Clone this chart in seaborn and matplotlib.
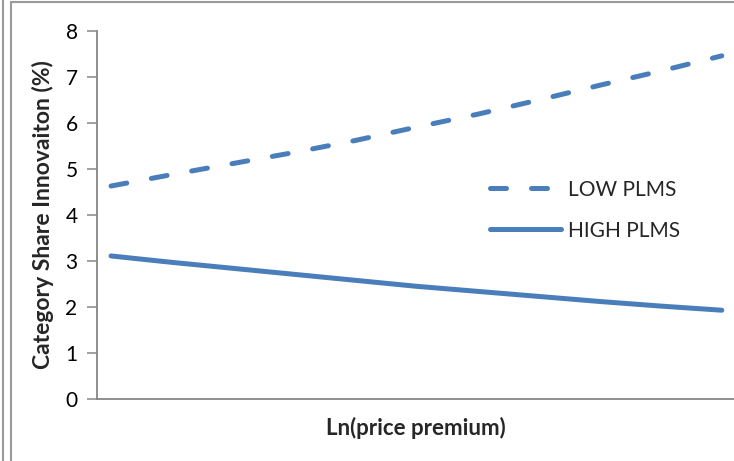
import numpy as np
import pandas as pd
import matplotlib
matplotlib.use("Agg")
import matplotlib.pyplot as plt
import seaborn as sns
from matplotlib.lines import Line2D

# values (11 evenly spaced points along Ln(price premium))
x_pos = list(range(11))
low_plms = [4.63, 4.88, 5.12, 5.36, 5.62, 5.91, 6.19, 6.50, 6.82, 7.13, 7.46]
high_plms = [3.11, 2.97, 2.84, 2.71, 2.58, 2.45, 2.34, 2.23, 2.12, 2.02, 1.93]
series_names = ["LOW PLMS", "HIGH PLMS"]
y_ticks = [0, 1, 2, 3, 4, 5, 6, 7, 8]

df = pd.DataFrame({
    "x": x_pos * 2,
    "share": low_plms + high_plms,
    "PLMS": [series_names[0]] * len(x_pos) + [series_names[1]] * len(x_pos),
})

sns.set_theme(style="white")
plt.rcParams["font.family"] = ["Lato", "DejaVu Sans"]

blue = "#4A7EBB"
grey = "#868686"

fig = plt.figure(figsize=(7.34, 4.61), dpi=100)
ax = fig.add_axes([97 / 734, 1 - 399 / 461, 1 - 97 / 734, (399 - 31) / 461])

sns.lineplot(data=df[df["PLMS"] == series_names[0]], x="x", y="share", ax=ax,
             color=blue, lw=3.6, linestyle=(0, (3.2, 5.0)),
             dash_capstyle="round", solid_capstyle="round", label=series_names[0])
sns.lineplot(data=df[df["PLMS"] == series_names[1]], x="x", y="share", ax=ax,
             color=blue, lw=3.6, solid_capstyle="round", label=series_names[1])

ax.set_xlim(-0.23, 10.2)
ax.set_ylim(0, 8)
ax.set_yticks(y_ticks)
ax.set_xticks([])
ax.tick_params(axis="y", left=True, length=7, width=1.1, color=grey,
               labelsize=15, pad=7, labelcolor="black")
for s in ["top", "right"]:
    ax.spines[s].set_visible(False)
for s in ["left", "bottom"]:
    ax.spines[s].set_color(grey)
    ax.spines[s].set_linewidth(1.3)

ax.set_xlabel("Ln(price premium)", fontsize=16, fontweight="bold", labelpad=13)
ax.set_ylabel("Category Share Innovaiton (%)", fontsize=16.5, fontweight="bold", labelpad=8)

ax.legend(loc="upper left", bbox_to_anchor=(471 / 734, 1 - 161 / 461),
          bbox_transform=fig.transFigure, frameon=False, fontsize=15,
          handlelength=3.4, handletextpad=0.35, labelspacing=1.0)

# outer chart border (partly cropped in the reference)
fig.add_artist(Line2D([2.5 / 734, 2.5 / 734], [0, 1], color="#9a9a9a", lw=1.5))
fig.add_artist(Line2D([11 / 734, 11 / 734], [0, 1 - 2.5 / 461], color="#9a9a9a", lw=1.5))
fig.add_artist(Line2D([11 / 734, 1], [1 - 2.5 / 461, 1 - 2.5 / 461], color="#9a9a9a", lw=1.5))

fig.savefig("out.png", dpi=100)
